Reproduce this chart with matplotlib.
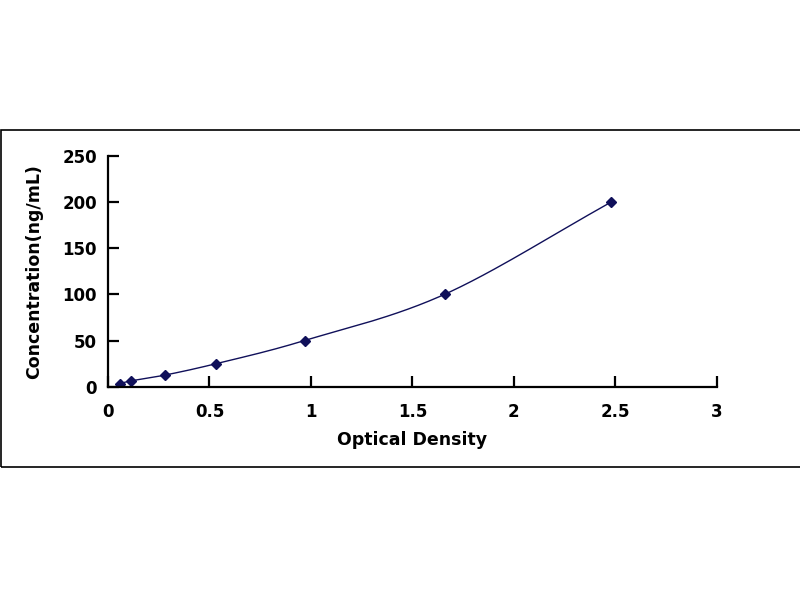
import numpy as np
import matplotlib
matplotlib.use("Agg")
import matplotlib.pyplot as plt
from matplotlib.patches import Rectangle

od = [0.058, 0.112, 0.279, 0.534, 0.969, 1.659, 2.481]
conc = [3.12, 6.25, 12.5, 25, 50, 100, 200]
x_ticks = [0, 0.5, 1, 1.5, 2, 2.5, 3]
x_tick_labels = ["0", "0.5", "1", "1.5", "2", "2.5", "3"]
y_ticks = [0, 50, 100, 150, 200, 250]
y_tick_labels = ["0", "50", "100", "150", "200", "250"]

plt.rcParams['font.family'] = ['DejaVu Sans']

def catmull_rom(x, y, n=30):
    x = np.asarray(x, float); y = np.asarray(y, float)
    px = np.concatenate([[2*x[0]-x[1]], x, [2*x[-1]-x[-2]]])
    py = np.concatenate([[2*y[0]-y[1]], y, [2*y[-1]-y[-2]]])
    xs, ys = [], []
    t = np.linspace(0, 1, n)
    for i in range(1, len(px)-2):
        p0, p1, p2, p3 = [np.array([px[j], py[j]]) for j in (i-1, i, i+1, i+2)]
        c1 = p1 + (p2 - p0) / 6.0
        c2 = p2 - (p3 - p1) / 6.0
        b = ((1-t)**3)[:, None]*p1 + (3*(1-t)**2*t)[:, None]*c1 + (3*(1-t)*t**2)[:, None]*c2 + (t**3)[:, None]*p2
        xs.append(b[:, 0]); ys.append(b[:, 1])
    return np.concatenate(xs), np.concatenate(ys)

fig = plt.figure(figsize=(8, 6), dpi=100)
ax = fig.add_axes([0.135, 0.3555, 0.761, 0.385])

sx, sy = catmull_rom(od, conc)
navy = '#10105a'
ax.plot(sx, sy, color=navy, lw=1.0)
ax.plot(od, conc, linestyle='none', marker='D', markersize=5.5, color=navy)

ax.set_xlim(0, 3)
ax.set_ylim(0, 250)
ax.set_xticks(x_ticks)
ax.set_xticklabels(x_tick_labels)
ax.set_yticks(y_ticks)
ax.set_yticklabels(y_tick_labels)
for s in ['top', 'right']:
    ax.spines[s].set_visible(False)
for s in ['left', 'bottom']:
    ax.spines[s].set_linewidth(1.6)
ax.tick_params(axis='both', direction='in', length=8, width=1.6, labelsize=12)
ax.tick_params(axis='x', pad=12)
ax.tick_params(axis='y', pad=8)
for lab in ax.get_xticklabels() + ax.get_yticklabels():
    lab.set_fontweight('bold')

ax.set_xlabel('Optical Density', fontsize=12.5, fontweight='bold', labelpad=7)
ax.set_ylabel('Concentration(ng/mL)', fontsize=12.5, fontweight='bold', labelpad=14)

rect = Rectangle((0.001, 0.2225), 1.2, 0.561, transform=fig.transFigure,
                 fill=False, edgecolor='black', lw=1.2, clip_on=False)
fig.patches.append(rect)

fig.savefig('out.png', dpi=100)
